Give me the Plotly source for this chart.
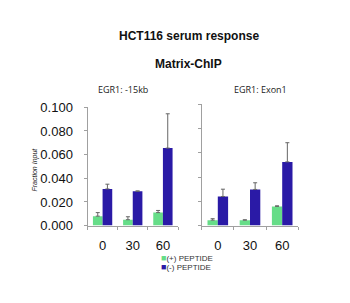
import plotly.graph_objects as go

categories = ["0", "30", "60"]
series_names = ["(+) PEPTIDE", "(-) PEPTIDE"]

# Left panel: EGR1: -15kb
left_plus = [0.008, 0.005, 0.011]
left_plus_err = [0.003, 0.0025, 0.0018]
left_minus = [0.031, 0.029, 0.0655]
left_minus_err = [0.004, 0.0003, 0.029]

# Right panel: EGR1: Exon1
right_plus = [0.0045, 0.0045, 0.0158]
right_plus_err = [0.0012, 0.0003, 0.0005]
right_minus = [0.024, 0.0298, 0.0525]
right_minus_err = [0.006, 0.0055, 0.0158]

y_ticks = [0.0, 0.02, 0.04, 0.06, 0.08, 0.1]
y_tick_text = ["0.000", "0.020", "0.040", "0.060", "0.080", "0.100"]

GREEN = "#66DD88"
BLUE = "#2A1AA6"
W, H = 350, 303

def px_x(x):
    return x / W

def px_y(y):
    return 1 - y / H

fig = go.Figure()

def add_bars(xa, ya, plus, plus_err, minus, minus_err):
    for name, vals, errs, col in [(series_names[0], plus, plus_err, GREEN),
                                   (series_names[1], minus, minus_err, BLUE)]:
        fig.add_trace(go.Bar(
            x=categories, y=vals, name=name, marker=dict(color=col, line=dict(width=0)),
            error_y=dict(type="data", array=errs, arrayminus=[0] * len(errs),
                         color="#666666", thickness=1, width=2),
            xaxis=xa, yaxis=ya, showlegend=False,
        ))

add_bars("x", "y", left_plus, left_plus_err, left_minus, left_minus_err)
add_bars("x2", "y2", right_plus, right_plus_err, right_minus, right_minus_err)

axis_font = dict(family="Liberation Sans, Arial, sans-serif", size=13, color="#111111")

xcommon = dict(type="category", showgrid=False, showline=True, linecolor="#A0A0A0",
               linewidth=1, ticks="outside", tickson="boundaries", ticklen=3,
               tickcolor="#A0A0A0", tickfont=axis_font, zeroline=False,
               ticklabelstandoff=8)
ycommon = dict(range=[0, 0.1], showgrid=False, showline=True, linecolor="#A0A0A0",
               linewidth=1, ticks="outside", ticklen=3, tickcolor="#A0A0A0",
               tickvals=y_ticks, zeroline=False)

fig.update_layout(
    width=W, height=H, margin=dict(l=0, r=0, t=0, b=0),
    paper_bgcolor="white", plot_bgcolor="white",
    barmode="group", bargap=0.36, bargroupgap=0,
    xaxis=dict(domain=[px_x(87.5), px_x(178)], anchor="y", **xcommon),
    yaxis=dict(domain=[px_y(230), px_y(105.5)], anchor="x", ticktext=y_tick_text,
               tickfont=axis_font, showticklabels=True, ticklabelstandoff=8, **ycommon),
    xaxis2=dict(domain=[px_x(201.7), px_x(298.3)], anchor="y2", **xcommon),
    yaxis2=dict(domain=[px_y(230), px_y(102.3)], anchor="x2", showticklabels=False, **ycommon),
    showlegend=False,
)

ann_font_b = dict(family="Liberation Sans, Arial, sans-serif", size=12, color="#111111")
fig.add_annotation(text="<b>HCT116 serum response</b>", x=px_x(189), y=px_y(31),
                   xref="paper", yref="paper", showarrow=False, font=ann_font_b,
                   xanchor="center", yanchor="middle")
fig.add_annotation(text="<b>Matrix-ChIP</b>", x=px_x(188), y=px_y(60),
                   xref="paper", yref="paper", showarrow=False, font=ann_font_b,
                   xanchor="center", yanchor="middle")
sub_font = dict(family="Open Sans, Liberation Sans, sans-serif", size=9, color="#222222")
fig.add_annotation(text="EGR1: -15kb", x=px_x(123), y=px_y(87), xref="paper", yref="paper",
                   showarrow=False, font=sub_font, xanchor="center", yanchor="middle")
fig.add_annotation(text="EGR1: Exon1", x=px_x(260), y=px_y(87), xref="paper", yref="paper",
                   showarrow=False, font=sub_font, xanchor="center", yanchor="middle")
fig.add_annotation(text="<i>Fraction Input</i>", x=px_x(35), y=px_y(171), xref="paper",
                   yref="paper", showarrow=False, textangle=-90,
                   font=dict(family="Liberation Sans, Arial, sans-serif", size=7, color="#222222"),
                   xanchor="center", yanchor="middle")

# Legend (one text block with coloured square glyphs)
legend_lines = [
    f"<span style='color:{col};font-size:9px'>■</span><span style='font-size:8px'>{name}</span>"
    for name, col in [(series_names[0], GREEN), (series_names[1], BLUE)]
]
fig.add_annotation(
    text="<br>".join(legend_lines), align="left",
    x=px_x(158.5), y=px_y(268.3), xref="paper", yref="paper",
    showarrow=False, xanchor="left", yanchor="middle",
    font=dict(family="Liberation Sans, Arial, sans-serif", size=7, color="#333333"))

fig.write_html("out.html")
